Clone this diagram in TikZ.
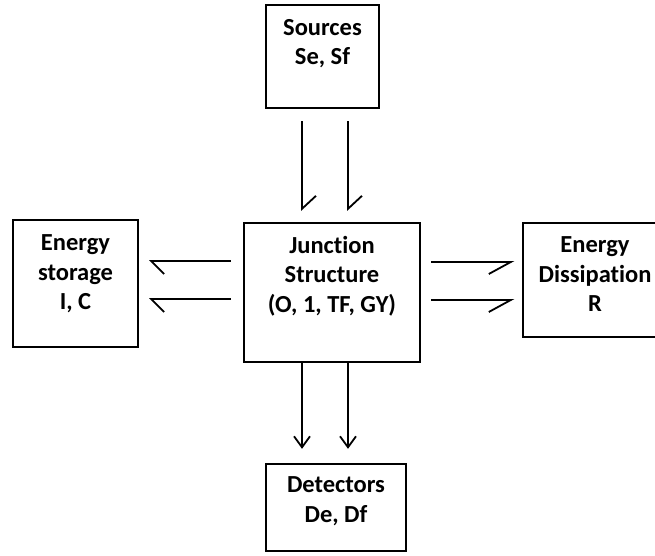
\documentclass[tikz,border=0pt]{standalone}
\usepackage{fontspec}
\setmainfont{Carlito}[Ligatures=NoCommon]
\usetikzlibrary{arrows.meta,positioning,calc}
\tikzset{
  blockbox/.style={draw=black, line width=2.4pt, rectangle, inner sep=0pt},
  blocktxt/.style={anchor=north, align=center, inner sep=0pt,
    font=\fontsize{24.5}{29.5}\selectfont\bfseries},
  bondln/.style={line width=1.8pt, line join=miter},
  fullarr/.style={bondln, -{Straight Barb[length=11pt, width=16pt, line width=1.8pt]}},
}

\begin{document}
\begin{tikzpicture}[x=1pt, y=1pt]
    \clip (0,0) rectangle (655,-555);
    % blocks
    \node[blockbox, minimum width=113pt, minimum height=103pt] (src) at (322.5,-56.5) {};
    \node[blockbox, minimum width=125pt, minimum height=127pt] (sto) at (75.5,-283.5) {};
    \node[blockbox, minimum width=176pt, minimum height=139pt] (jun) at (332,-292.5) {};
    \node[blockbox, minimum width=144pt, minimum height=114pt] (dis) at (595,-280) {};
    \node[blockbox, minimum width=140pt, minimum height=87pt] (det) at (336,-507.5) {};
    % block texts
    \node[blocktxt] (srctxt) at ([yshift=-15pt]src.north) {Sources\\Se, Sf};
    \node[blocktxt] (stotxt) at ([yshift=-16pt]sto.north) {Energy\\storage\\I, C};
    \node[blocktxt] (juntxt) at ([yshift=-14pt]jun.north) {Junction\\Structure\\(O, 1, TF, GY)};
    \node[blocktxt] (distxt) at ([yshift=-15pt]dis.north) {Energy\\Dissipation\\R};
    \node[blocktxt] (dettxt) at ([yshift=-14pt]det.north) {Detectors\\De, Df};
    % bond positions on the junction
    \coordinate (ja) at ([xshift=-30pt]jun.north);
    \coordinate (jb) at ([xshift=16pt]jun.north);
    \coordinate (jc) at ([yshift=31.5pt]jun.west);
    \coordinate (jd) at ([yshift=-6.5pt]jun.west);
    \coordinate (je) at ([yshift=30.5pt]jun.east);
    \coordinate (jf) at ([yshift=-7.5pt]jun.east);
    \coordinate (jg) at ([xshift=-30pt]jun.south);
    \coordinate (jh) at ([xshift=16pt]jun.south);
    % sources -> junction (half arrows)
    \foreach \c in {ja,jb} {
      \draw[bondln] ($(src.south -| \c)+(0,-12)$) -- ($(\c)+(0,13)$) -- ++(14,13);
    }
    % junction -> storage
    \foreach \c in {jc,jd} {
      \draw[bondln] ($(\c)+(-12,0)$) -- ($(sto.east |- \c)+(12,0)$) -- ++(13,-13);
    }
    % junction -> dissipation
    \foreach \c in {je,jf} {
      \draw[bondln] ($(\c)+(10,0)$) -- ($(dis.west |- \c)+(-11,0)$) -- ++(-22,-12);
    }
    % junction -> detectors
    \foreach \c in {jg,jh} {
      \draw[fullarr] (\c) -- ($(det.north -| \c)+(0,14)$);
    }
\end{tikzpicture}
\end{document}
